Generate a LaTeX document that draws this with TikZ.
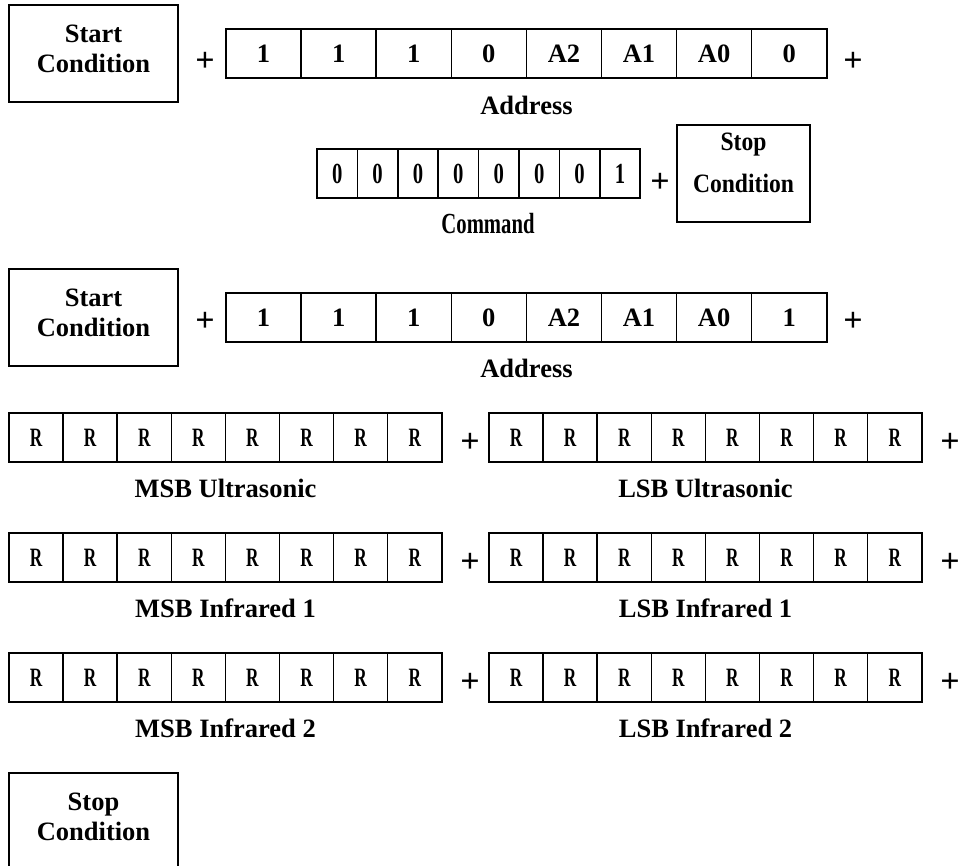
\documentclass[tikz,border=0pt]{standalone}
\usepackage{graphicx}
\usepackage{fontspec}
\setmainfont{Liberation Serif}
\newcommand\rchar{\scalebox{0.65}[1]{R}}
\newcommand\cmdtxt[1]{\scalebox{0.78}[1.1]{#1}}
\newcommand\stoptxt[1]{\scalebox{0.89}[1]{#1}}
\begin{document}
\begin{tikzpicture}[x=1pt,y=-1pt,
  txt/.style={font=\bfseries\fontsize{26.5}{30}\selectfont, inner sep=0pt},
  cell/.style={txt, draw, line width=1.5pt, minimum height=49pt, inner sep=0pt},
  acell/.style={cell, minimum width=75.1pt},
  ccell/.style={cell, minimum width=40.4pt},
  rcell/.style={cell, minimum width=54.1pt},
  cond/.style={txt, draw, line width=2pt, minimum width=169pt, minimum height=97pt, align=center, text depth=9pt},
  plus/.style={font=\bfseries\fontsize{34}{34}\selectfont, inner sep=0pt},
  lbl/.style={txt}]
\useasboundingbox (0,0) rectangle (963,866);

% Row 1: start + address (write)
\node[cond] (s1) at (93.5,53.5) {Start\\Condition};
\node[plus] (p1a) at (205,62) {+};
\foreach \t [count=\i] in {1,1,1,0,A2,A1,A0,0}
  \node[acell] (a\i) at ({226+37.55+75.1*(\i-1)},53.5) {\t};
\node[plus] (p1b) at (853,62) {+};
\node[lbl] (addr1) at (526.5,105) {Address};

% Row 2: command + stop
\foreach \t [count=\i] in {0,0,0,0,0,0,0,1}
  \node[ccell] (c\i) at ({317+20.2+40.4*(\i-1)},173.5) {\cmdtxt{\t}};
\node[plus] (p2) at (660,183) {+};
\node[cond, minimum width=133pt, font=\bfseries\fontsize{26.5}{42}\selectfont, text depth=21pt] (stop1) at (743.5,173.5) {\stoptxt{Stop}\\\stoptxt{Condition}};
\node[lbl] (cmd) at (488,224) {\cmdtxt{Command}};

% Row 3: start + address (read)
\node[cond] (s2) at (93.5,317.5) {Start\\Condition};
\node[plus] (p3a) at (205,322) {+};
\foreach \t [count=\i] in {1,1,1,0,A2,A1,A0,1}
  \node[acell] (b\i) at ({226+37.55+75.1*(\i-1)},317.5) {\t};
\node[plus] (p3b) at (853,322) {+};
\node[lbl] (addr2) at (526.5,368) {Address};

% Data rows
\foreach \row/\y/\name in {u/437.5/Ultrasonic, i/557.5/Infrared 1, j/677.5/Infrared 2} {
  \foreach \i in {1,...,8} {
    \node[rcell] (m\row\i) at ({9+27.05+54.1*(\i-1)},\y) {\rchar};
    \node[rcell] (l\row\i) at ({489+27.05+54.1*(\i-1)},\y) {\rchar};
  }
  \node[plus] (pm\row) at (470,{\y+5.5}) {+};
  \node[plus] (pl\row) at (950,{\y+5.5}) {+};
  \node[lbl] (lm\row) at (225.5,{\y+50.5}) {MSB \name};
  \node[lbl] (ll\row) at (705.5,{\y+50.5}) {LSB \name};
}

% Final stop condition
\node[cond] (stop2) at (93.5,821.5) {Stop\\Condition};
\end{tikzpicture}
\end{document}
